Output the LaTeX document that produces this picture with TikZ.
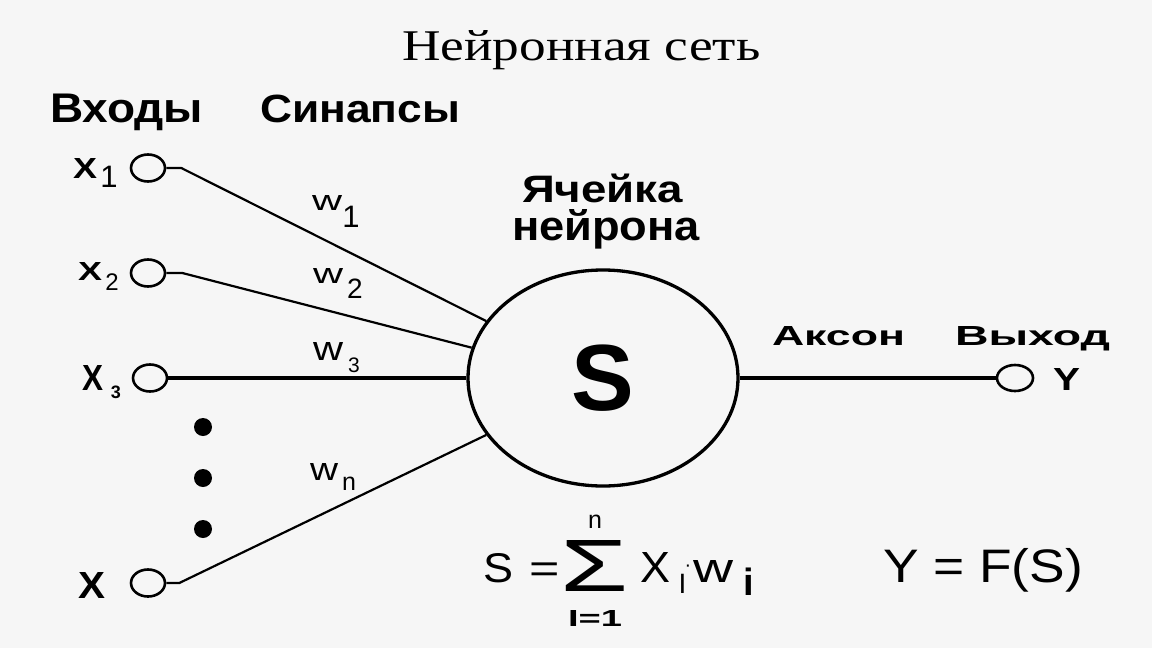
\documentclass[tikz,border=0pt]{standalone}
\usepackage{fontspec}
\usepackage{graphicx}
\setmainfont{Liberation Serif}
\newfontfamily\sans{Liberation Sans}
\usetikzlibrary{shapes.geometric}
\definecolor{bg}{RGB}{246,246,246}
\newcommand\fb[3]{\resizebox{#1pt}{#2pt}{#3}}
\begin{document}
\begin{tikzpicture}[x=1pt,y=-1pt,
  txt/.style={inner sep=0, outer sep=0, anchor=base west, font=\sans},
  btxt/.style={txt, font=\sans\bfseries},
  ctxt/.style={inner sep=0, outer sep=0, anchor=base, font=\sans},
  inp/.style={ellipse, draw, line width=2.6pt, minimum width=34pt, minimum height=27pt, inner sep=0},
  blob/.style={circle, fill=black, minimum size=18pt, inner sep=0},
  wire/.style={line width=2.2pt, line join=round},
  thickwire/.style={line width=3.6pt}]
\fill[bg] (0,0) rectangle (1152,648);
\useasboundingbox (0,0) rectangle (1152,648);

% title
\node[inner sep=0, anchor=base west] (title) at (402,60) {\fb{358}{30}{Нейронная сеть}};

% headers
\node[btxt] (hin) at (50,122) {\fb{153}{28.5}{Входы}};
\node[btxt] (hsyn) at (260,122) {\fb{200}{27.5}{Синапсы}};
\node[btxt] (hcell1) at (522,202) {\fb{161}{28.5}{Ячейка}};
\node[btxt] (hcell2) at (512,240) {\fb{188}{31}{нейрона}};
\node[btxt] (hax) at (772,345) {\fb{133}{19}{Аксон}};
\node[btxt] (hout) at (955,345) {\fb{155}{19}{Выход}};

% neuron cell
\node[ellipse, draw, line width=3.3pt, minimum width=270pt, minimum height=216pt, inner sep=0]
  (cell) at (603,378) {\sans\bfseries\fontsize{94}{94}\selectfont S};

% inputs
\node[inp] (x1) at (148,168) {};
\node[inp] (x2) at (148,273) {};
\node[inp] (x3) at (150,378) {};
\node[inp] (xn) at (148,583) {};
\node[inp, minimum width=36pt, minimum height=26pt] (y) at (1015,378) {};

\node[btxt] (lx1) at (73,178) {\fb{24}{20}{X}};
\node[ctxt, font=\sans\fontsize{31}{31}\selectfont] (lx1s) at (109,187) {1};
\node[btxt] (lx2) at (78,280) {\fb{24}{18}{X}};
\node[ctxt, font=\sans\fontsize{24}{24}\selectfont] (lx2s) at (112,290) {2};
\node[btxt] (lx3) at (82,390) {\fb{21}{25}{X}};
\node[ctxt, font=\sans\bfseries\fontsize{18}{18}\selectfont] (lx3s) at (116,398) {3};
\node[btxt] (lxn) at (78,598) {\fb{27}{26}{X}};
\node[btxt] (ly) at (1053,390) {\fb{27}{22}{Y}};

% dots
\node[blob] (d1) at (203,427) {};
\node[blob] (d2) at (203,478) {};
\node[blob] (d3) at (203,529) {};

% weights
\node[txt] (w1) at (312,210) {\fb{30}{15}{w}};
\node[ctxt, font=\sans\fontsize{31}{31}\selectfont] (w1s) at (351,227) {1};
\node[txt] (w2) at (313,283) {\fb{30}{15}{w}};
\node[ctxt, font=\sans\fontsize{28}{28}\selectfont] (w2s) at (355,298) {2};
\node[txt] (w3) at (313,360) {\fb{30}{18}{w}};
\node[ctxt, font=\sans\fontsize{21}{21}\selectfont] (w3s) at (354,372) {3};
\node[txt] (wn) at (310,480) {\fb{28}{17}{w}};
\node[ctxt, font=\sans\fontsize{25}{25}\selectfont] (wns) at (349,490) {n};

% connectors
\draw[wire] (x1.east) -- ++(15,0) -- (cell.154);
\draw[wire] (x2.east) -- ++(16,0) -- (cell.167);
\draw[thickwire] (x3.east) -- (cell.west);
\draw[wire] (xn.east) -- ++(13,0) -- (cell.206);
\draw[thickwire] (cell.east) -- (y.west);

% formula S = sum X_i w_i
\node[txt] (fs) at (483,582) {\fb{30}{29}{S}};
\node[ctxt, font=\sans\fontsize{40}{40}\selectfont] (feq) at (545,582) {\scalebox{1.3}[1]{=}};
\node[txt] (fsum) at (560,591) {\fb{68}{51}{Σ}};
\node[ctxt, font=\sans\fontsize{25}{25}\selectfont] (fn) at (595,528) {n};
\node[btxt] (fi1) at (568,626) {\fb{54}{16}{I=1}};
\node[txt] (fx) at (640,582) {\fb{30}{30}{X}};
\node[ctxt, font=\sans\fontsize{28}{28}\selectfont] (fxi) at (682.5,593) {I};
\node[inner sep=0, font=\sans\fontsize{20}{20}\selectfont] (fdot) at (688,568) {·};
\node[txt] (fw) at (693,582) {\fb{40}{22}{w}};
\node[ctxt, font=\sans\bfseries\fontsize{38}{38}\selectfont] (fwi) at (749,595) {i};

% Y = F(S)
\node[txt, font=\sans\fontsize{47}{47}\selectfont] (fy) at (883,582) {\scalebox{1.135}[1]{Y = F(S)}};
\end{tikzpicture}
\end{document}
